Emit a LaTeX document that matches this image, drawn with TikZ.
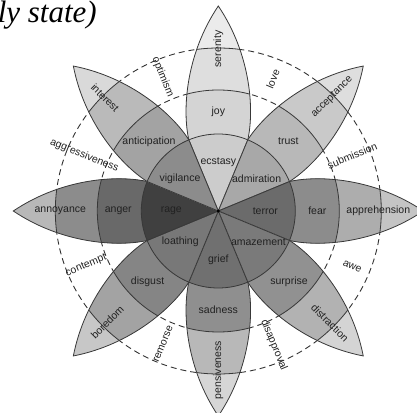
\documentclass[tikz,border=0pt]{standalone}
\usepackage{fontspec}
\setmainfont{Liberation Serif}
\newfontfamily\labfont{Liberation Sans}
\definecolor{labcol}{gray}{0.13}
\definecolor{linecol}{gray}{0.22}
\definecolor{dashcol}{gray}{0.2}
\tikzset{
  petalshape/.style={insert path={(0pt,0pt) -- (71.14pt,29.47pt) .. controls (100pt,36pt) and (156pt,33pt) .. (205pt,0pt) .. controls (156pt,-33pt) and (100pt,-36pt) .. (71.14pt,-29.47pt) -- cycle}},
  petalline/.style={draw=linecol, line width=0.8pt},
  dashline/.style={draw=dashcol, line width=0.9pt, dash pattern=on 6pt off 4pt},
  lbl/.style={font=\labfont\fontsize{10.5}{12}\selectfont, text=labcol, inner sep=0pt},
  titletext/.style={font=\fontsize{31}{33}\selectfont\itshape, text=black, inner sep=0pt}
}
% #1 angle, #2 sector, #3 band1, #4 band2, #5 tip (gray levels)
\newcommand{\drawpetal}[5]{%
  \begin{scope}[rotate=#1]
    \begin{scope}
      \clip[petalshape];
      \fill[fill={rgb,1:red,#5;green,#5;blue,#5}, petalshape];
      \fill[fill={rgb,1:red,#4;green,#4;blue,#4}] (0pt,0pt) circle (163pt);
      \fill[fill={rgb,1:red,#3;green,#3;blue,#3}] (0pt,0pt) circle (121pt);
      \fill[fill={rgb,1:red,#2;green,#2;blue,#2}] (0pt,0pt) circle (77pt);
      \draw[petalline] (0pt,0pt) circle (77pt) (0pt,0pt) circle (121pt) (0pt,0pt) circle (163pt);
    \end{scope}
    \path[petalline, petalshape];
  \end{scope}}
\begin{document}
\begin{tikzpicture}[x=1pt,y=1pt]
\useasboundingbox (0,0) rectangle (417,412);
\node[titletext, anchor=base east] (title) at (97,389) {ly state)};
\begin{scope}[shift={(218.3,201)}]
  \coordinate (c) at (0,0);
  \draw[dashline] (c) circle (121pt);
  \draw[dashline] (c) circle (163pt);
  \drawpetal{90}{0.80}{0.83}{0.87}{0.92}
  \drawpetal{45}{0.66}{0.72}{0.79}{0.87}
  \drawpetal{0}{0.42}{0.55}{0.68}{0.77}
  \drawpetal{-45}{0.48}{0.57}{0.70}{0.83}
  \drawpetal{-90}{0.44}{0.56}{0.72}{0.84}
  \drawpetal{-135}{0.47}{0.52}{0.64}{0.78}
  \drawpetal{180}{0.25}{0.41}{0.55}{0.72}
  \drawpetal{135}{0.55}{0.64}{0.73}{0.85}
  \fill[black] (c) circle (1.6pt);
  % inner sector labels
  \node[lbl] (l-ecstasy) at (90:49pt) {ecstasy};
  \node[lbl] (l-admiration) at (40:50pt) {admiration};
  \node[lbl] (l-terror) at (0:47pt) {terror};
  \node[lbl] (l-amazement) at (-38:51pt) {amazement};
  \node[lbl] (l-grief) at (-90:49pt) {grief};
  \node[lbl] (l-loathing) at (-141:49pt) {loathing};
  \node[lbl] (l-rage) at (180:47pt) {rage};
  \node[lbl] (l-vigilance) at (140:50pt) {vigilance};
  % middle band labels
  \node[lbl] (l-joy) at (90:99pt) {joy};
  \node[lbl] (l-trust) at (45:99pt) {trust};
  \node[lbl] (l-fear) at (0:99pt) {fear};
  \node[lbl] (l-surprise) at (-45:100pt) {surprise};
  \node[lbl] (l-sadness) at (-90:99pt) {sadness};
  \node[lbl] (l-disgust) at (-135:100pt) {disgust};
  \node[lbl] (l-anger) at (180:100pt) {anger};
  \node[lbl] (l-anticipation) at (135:98pt) {anticipation};
  % outer labels
  \node[lbl, rotate=90] (l-serenity) at (90:162pt) {serenity};
  \node[lbl, rotate=45] (l-acceptance) at (45:161pt) {acceptance};
  \node[lbl] (l-apprehension) at (0:160pt) {apprehension};
  \node[lbl, rotate=-45] (l-distraction) at (-45:158pt) {distraction};
  \node[lbl, rotate=90] (l-pensiveness) at (-90:159pt) {pensiveness};
  \node[lbl, rotate=45] (l-boredom) at (-135:157pt) {boredom};
  \node[lbl] (l-annoyance) at (180:158pt) {annoyance};
  \node[lbl, rotate=-45] (l-interest) at (135:160pt) {interest};
  % dyads
  \node[lbl, rotate=-67.5] (d-optimism) at (112.5:145pt) {optimism};
  \node[lbl, rotate=67.5] (d-love) at (67.5:143pt) {love};
  \node[lbl, rotate=22.5] (d-submission) at (22.5:145pt) {submission};
  \node[lbl, rotate=-22.5] (d-awe) at (-22.5:145pt) {awe};
  \node[lbl, rotate=-67.5] (d-disapproval) at (-67.5:145pt) {disapproval};
  \node[lbl, rotate=67.5] (d-remorse) at (-112.5:144pt) {remorse};
  \node[lbl, rotate=22.5] (d-contempt) at (-157.5:143pt) {contempt};
  \node[lbl, rotate=-22.5] (d-aggressiveness) at (157.5:145pt) {aggressiveness};
\end{scope}
\end{tikzpicture}
\end{document}
